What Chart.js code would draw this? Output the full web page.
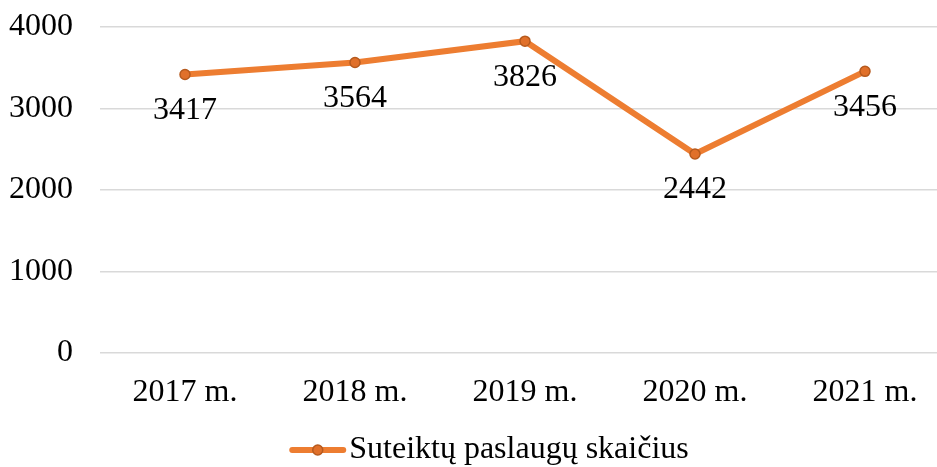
<!DOCTYPE html>
<html>
<head>
<meta charset="utf-8">
<script src="https://cdn.jsdelivr.net/npm/chart.js@4.4.0/dist/chart.umd.min.js"></script>
<style>
  html, body { margin: 0; padding: 0; background: #fff; overflow: hidden; }
  #wrap { width: 978px; height: 467px; }
</style>
</head>
<body>
<div id="wrap"><canvas id="chart" width="978" height="467"></canvas></div>
<script>
// --- DATA ---
const categories = ['2017 m.', '2018 m.', '2019 m.', '2020 m.', '2021 m.'];
const serviceCounts = [3417, 3564, 3826, 2442, 3456];
const seriesLabel = 'Suteiktų paslaugų skaičius';
const yTicks = [0, 1000, 2000, 3000, 4000];

const FONT = "'Liberation Serif', 'Times New Roman', serif";
const FONT_SIZE = 32;
const ORANGE = '#ED7D31';

// value labels under each point
const valueLabels = {
    id: 'valueLabels',
    afterDatasetsDraw(chart) {
        const ctx = chart.ctx;
        const meta = chart.getDatasetMeta(0);
        ctx.save();
        ctx.font = FONT_SIZE + 'px ' + FONT;
        ctx.fillStyle = '#000';
        ctx.textAlign = 'center';
        ctx.textBaseline = 'middle';
        meta.data.forEach((pt, i) => {
            ctx.fillText(String(serviceCounts[i]), pt.x, pt.y + 36);
        });
        ctx.restore();
    }
};

// legend: line with a marker, then the text
const lineLegend = {
    id: 'lineLegend',
    afterDraw(chart) {
        const ctx = chart.ctx;
        ctx.save();
        ctx.font = FONT_SIZE + 'px ' + FONT;
        const textW = ctx.measureText(seriesLabel).width;
        const total = 55 + 5 + textW;
        const x0 = chart.width / 2 - total / 2;
        const y = 450;
        ctx.strokeStyle = ORANGE;
        ctx.lineWidth = 6;
        ctx.lineCap = 'round';
        ctx.beginPath();
        ctx.moveTo(x0 + 3, y);
        ctx.lineTo(x0 + 54, y);
        ctx.stroke();
        ctx.beginPath();
        ctx.arc(x0 + 28.5, y, 5, 0, Math.PI * 2);
        ctx.fillStyle = '#E0702A';
        ctx.fill();
        ctx.lineWidth = 1.5;
        ctx.strokeStyle = '#B65A1E';
        ctx.stroke();
        ctx.fillStyle = '#000';
        ctx.textAlign = 'left';
        ctx.textBaseline = 'middle';
        ctx.fillText(seriesLabel, x0 + 60, y);
        ctx.restore();
    }
};

new Chart(document.getElementById('chart').getContext('2d'), {
    type: 'line',
    data: {
        labels: categories,
        datasets: [{
            label: seriesLabel,
            data: serviceCounts,
            borderColor: ORANGE,
            backgroundColor: ORANGE,
            borderWidth: 6,
            tension: 0,
            pointRadius: 5,
            pointBorderWidth: 1.5,
            pointBackgroundColor: '#E0702A',
            pointBorderColor: '#B65A1E'
        }]
    },
    options: {
        responsive: false,
        animation: false,
        layout: { padding: { top: 27, right: 28, bottom: 60, left: 0 } },
        plugins: {
            legend: { display: false },
            tooltip: { enabled: false }
        },
        scales: {
            x: {
                offset: true,
                grid: { display: false },
                border: { display: false },
                ticks: { color: '#000', font: { family: FONT, size: FONT_SIZE }, padding: 12, maxRotation: 0 },
                afterFit(scale) { scale.height = 54; }
            },
            y: {
                min: 0,
                max: 4000,
                afterBuildTicks(scale) { scale.ticks = yTicks.map(v => ({ value: v })); },
                grid: { color: '#d9d9d9', lineWidth: 1.5, drawTicks: false },
                border: { display: false },
                ticks: {
                    color: '#000', font: { family: FONT, size: FONT_SIZE }, padding: 27,
                    callback: v => String(v)
                },
                afterFit(scale) {
                    scale.width = 100;
                    scale.paddingTop = 0;
                    scale.paddingBottom = 0;
                }
            }
        }
    },
    plugins: [valueLabels, lineLegend]
});
</script>
</body>
</html>
